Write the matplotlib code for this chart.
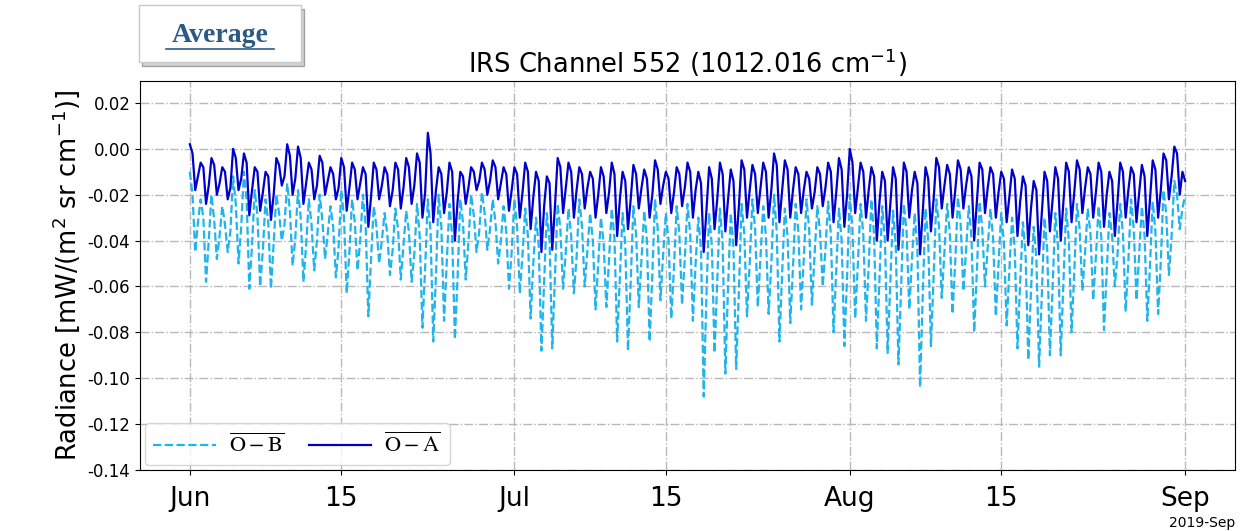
# IRS channel 552 average O-B / O-A radiance departures, Jun-Aug 2019
import numpy as np
import pandas as pd
import matplotlib
matplotlib.use('Agg')
import matplotlib.pyplot as plt
import matplotlib.dates as mdates
from matplotlib.patches import Rectangle, Shadow
from matplotlib.lines import Line2D
from matplotlib.font_manager import FontProperties

# values in 1e-3 mW/(m2 sr cm-1), four 6-hourly samples per day
ob_jun = [[-10, -20, -45, -32], [-22, -30, -58, -40], [-20, -31, -48, -38], [-25, -33, -45, -36],
          [-12, -24, -50, -34], [-10, -22, -61, -42], [-18, -29, -60, -44], [-22, -32, -61, -41],
          [-20, -28, -40, -33], [-15, -27, -51, -39], [-18, -30, -58, -42], [-22, -33, -53, -40],
          [-20, -31, -48, -37], [-25, -34, -56, -43], [-18, -30, -63, -45], [-22, -32, -53, -40],
          [-20, -33, -73, -48], [-25, -34, -50, -40], [-28, -37, -55, -44], [-26, -35, -57, -42],
          [-27, -36, -58, -46], [-24, -38, -78, -52], [-22, -36, -84, -55], [-20, -34, -75, -50],
          [-24, -38, -83, -56], [-22, -32, -57, -41], [-20, -29, -45, -36], [-19, -28, -44, -35],
          [-22, -32, -50, -40], [-25, -36, -61, -45]]
ob_jul = [[-22, -34, -63, -46], [-26, -38, -74, -50], [-30, -42, -88, -58], [-28, -40, -87, -56],
          [-24, -35, -61, -45], [-26, -38, -63, -47], [-22, -34, -60, -44], [-28, -40, -70, -50],
          [-30, -41, -69, -48], [-26, -39, -84, -56], [-28, -42, -88, -58], [-25, -37, -69, -48],
          [-27, -40, -84, -55], [-22, -35, -66, -46], [-28, -40, -74, -52], [-25, -37, -68, -48],
          [-24, -37, -75, -50], [-30, -44, -108, -64], [-28, -42, -89, -58], [-26, -41, -98, -60],
          [-28, -43, -96, -62], [-24, -37, -73, -50], [-22, -35, -69, -47], [-25, -38, -72, -50],
          [-20, -36, -84, -54], [-26, -38, -76, -52], [-24, -36, -70, -48], [-22, -35, -68, -46],
          [-25, -36, -60, -44], [-23, -37, -80, -53], [-26, -40, -86, -56]]
ob_aug = [[-20, -35, -74, -50], [-24, -37, -75, -51], [-22, -38, -87, -56], [-25, -40, -89, -58],
          [-27, -42, -94, -60], [-24, -36, -70, -48], [-28, -44, -104, -63], [-26, -40, -86, -56],
          [-22, -34, -65, -45], [-24, -37, -72, -49], [-21, -33, -62, -44], [-25, -39, -80, -53],
          [-23, -35, -60, -43], [-26, -39, -73, -50], [-28, -41, -77, -53], [-30, -44, -87, -58],
          [-32, -46, -92, -62], [-34, -48, -95, -64], [-30, -44, -90, -60], [-28, -43, -90, -58],
          [-26, -40, -80, -54], [-24, -35, -62, -45], [-26, -37, -66, -47], [-25, -39, -79, -53],
          [-28, -38, -60, -46], [-24, -37, -71, -49], [-22, -35, -66, -46], [-25, -38, -75, -51],
          [-23, -36, -72, -49], [-18, -28, -55, -38], [-14, -20, -35, -26]]
ob_end = [-20]

oa_jun = [[2, -2, -18, -12], [-6, -8, -24, -16], [-4, -7, -20, -15], [-8, -10, -22, -17],
          [0, -4, -18, -13], [-2, -6, -29, -18], [-8, -10, -27, -19], [-10, -12, -31, -20],
          [-4, -7, -16, -12], [2, -3, -20, -13], [1, -4, -24, -15], [-6, -9, -22, -16],
          [-3, -6, -20, -14], [-8, -11, -22, -17], [-4, -8, -27, -17], [-6, -9, -22, -15],
          [-8, -11, -34, -21], [-6, -9, -22, -16], [-8, -11, -25, -18], [-6, -9, -26, -17],
          [-4, -8, -24, -16], [-2, -6, -30, -19], [7, -2, -32, -18], [-8, -11, -28, -19],
          [-6, -10, -40, -23], [-10, -12, -24, -17], [-8, -10, -18, -14], [-6, -9, -20, -14],
          [-5, -8, -22, -15], [-8, -11, -27, -18]]
oa_jul = [[-8, -11, -30, -19], [-6, -10, -35, -21], [-10, -14, -45, -25], [-12, -15, -44, -25],
          [-4, -8, -28, -17], [-6, -10, -30, -18], [-8, -11, -26, -17], [-10, -13, -30, -20],
          [-8, -12, -28, -19], [-6, -11, -38, -22], [-10, -14, -35, -22], [-7, -11, -26, -17],
          [-9, -13, -30, -20], [-5, -9, -24, -16], [-10, -13, -28, -19], [-8, -11, -25, -17],
          [-6, -10, -30, -18], [-10, -15, -45, -27], [-8, -13, -35, -22], [-6, -11, -36, -22],
          [-9, -14, -42, -25], [-5, -9, -30, -18], [-7, -11, -28, -17], [-6, -10, -30, -18],
          [-2, -7, -32, -18], [-5, -9, -30, -18], [-8, -11, -28, -18], [-10, -13, -26, -19],
          [-8, -11, -25, -17], [-6, -10, -32, -19], [-4, -9, -34, -20]]
oa_aug = [[0, -6, -28, -17], [-6, -10, -30, -18], [-8, -12, -40, -23], [-10, -14, -40, -24],
          [-8, -13, -44, -25], [-6, -10, -30, -18], [-10, -15, -46, -27], [-8, -13, -36, -22],
          [-4, -8, -26, -16], [-7, -11, -30, -18], [-5, -9, -26, -16], [-8, -12, -40, -23],
          [-6, -9, -28, -17], [-8, -11, -30, -19], [-10, -13, -32, -21], [-9, -13, -38, -23],
          [-12, -16, -42, -26], [-14, -18, -46, -28], [-10, -14, -36, -22], [-8, -13, -40, -23],
          [-6, -10, -32, -19], [-5, -9, -28, -17], [-8, -11, -30, -19], [-6, -10, -34, -20],
          [-10, -14, -38, -23], [-6, -10, -30, -18], [-8, -11, -32, -19], [-7, -12, -38, -22],
          [-5, -9, -30, -18], [-2, -5, -22, -12], [1, -2, -20, -10]]
oa_end = [-14]

ob = np.concatenate([np.ravel(ob_jun), np.ravel(ob_jul), np.ravel(ob_aug), ob_end]) * 1e-3
oa = np.concatenate([np.ravel(oa_jun), np.ravel(oa_jul), np.ravel(oa_aug), oa_end]) * 1e-3
times = pd.date_range('2019-06-01', periods=len(ob), freq='6h')

fig = plt.figure(figsize=(12.55, 5.31), dpi=100)
ax = fig.add_axes([0.1116, 0.115, 0.8724, 0.7325])

ax.plot(times, ob, color='#1fb4ee', lw=1.6, ls='--',
        label=r'$\overline{\mathrm{O}\:-\:\mathrm{B}}$')
ax.plot(times, oa, color='#0000cd', lw=1.6,
        label=r'$\overline{\mathrm{O}\:-\:\mathrm{A}}$')

ax.set_ylim(-0.14, 0.0296)
ax.set_yticks(np.arange(-0.14, 0.021, 0.02))
ax.yaxis.set_major_formatter(plt.FormatStrFormatter('%.2f'))
loc = mdates.DayLocator(bymonthday=[1, 15])
ax.xaxis.set_major_locator(loc)
ax.xaxis.set_major_formatter(mdates.ConciseDateFormatter(loc))
ax.tick_params(axis='x', labelsize=19, pad=8)
ax.tick_params(axis='y', labelsize=12)
ax.xaxis.get_offset_text().set_fontsize(10)
ax.grid(True, color='#b8b8b8', ls='-.', lw=1)

ax.set_title(r'IRS Channel 552 (1012.016 cm$^{-1}$)', fontsize=18.5)
ax.set_ylabel(r'Radiance [mW/(m$^2$ sr cm$^{-1}$)]', fontsize=18.5)

leg_font = FontProperties(size=16, math_fontfamily='stix')
leg = ax.legend(loc='lower left', ncol=2, prop=leg_font, handlelength=2.8,
                borderaxespad=0.2, columnspacing=1.1, handletextpad=0.6)

# "Average" tag in the top-left corner
box = Rectangle((139 / 1255, 1 - 62 / 531), 162 / 1255, 57 / 531, transform=fig.transFigure,
                facecolor='white', edgecolor='#c8c8c8', lw=1, zorder=3)
fig.add_artist(Shadow(box, 0.002, -0.005, facecolor='#a0a0a0', alpha=0.45, zorder=2))
fig.add_artist(box)
fig.text(220 / 1255, 1 - 36 / 531, 'Average', fontsize=20, fontweight='bold',
         family='Liberation Serif', color='#2c5a85', ha='center', va='center', zorder=4)
fig.add_artist(Line2D([166 / 1255, 274 / 1255], [1 - 49 / 531, 1 - 49 / 531],
                      transform=fig.transFigure, color='#2c5a85', lw=1.2, zorder=4))

fig.savefig('out.png', dpi=100)
